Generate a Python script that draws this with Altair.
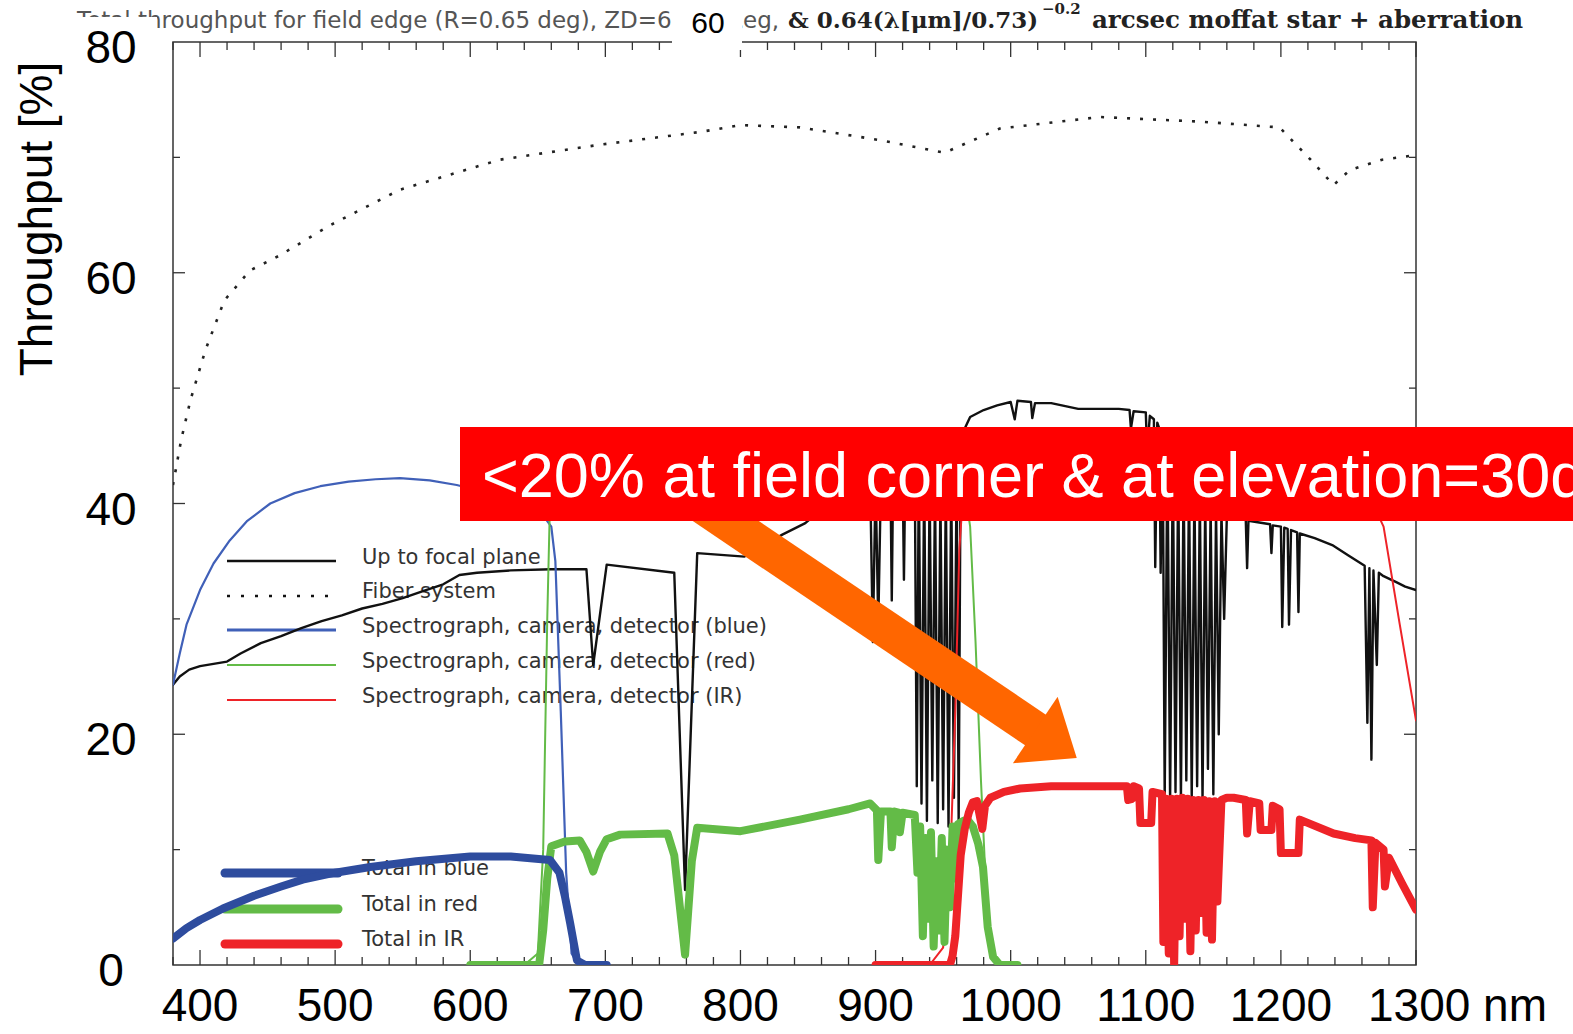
import altair as alt
import pandas as pd

# ---------------- data (wavelength nm, throughput %) ----------------
fiber_nm = [380, 386, 393, 404, 418, 437, 459, 496, 548, 622, 696, 770, 800, 844, 903,
            951, 992, 1066, 1140, 1199, 1222, 1239, 1251, 1275, 1300]
fiber_pct = [41.6, 45.5, 49.0, 53.3, 57.6, 60.2, 61.5, 64.1, 67.2, 69.8, 71.1, 72.2, 72.8,
             72.6, 71.5, 70.4, 72.5, 73.5, 73.1, 72.6, 69.8, 67.6, 68.9, 69.8, 70.2]

focal_pairs = [
    (380, 24.3), (385, 25.0), (392, 25.6), (400, 25.9), (410, 26.1), (420, 26.3), (430, 27.0),
    (445, 27.9), (460, 28.5), (475, 29.2), (490, 29.8), (505, 30.3), (520, 30.9), (535, 31.3),
    (550, 31.8), (565, 32.4), (580, 33.0), (592, 33.8), (605, 34.0), (630, 34.2), (660, 34.3),
    (686, 34.3), (691, 26.0), (701, 34.7), (751, 34.0), (759, 6.5), (768, 35.7), (803, 35.4),
    (831, 37.3), (848, 38.3), (870, 40.5), (885, 41.5),
    (896, 42.0), (898, 28.0), (900, 42.0), (902, 29.5), (904, 42.2), (911, 42.5), (912, 31.6),
    (913, 42.5), (920, 43.0), (921, 33.4), (922, 43.0),
    (929, 43.2), (930.5, 15.5), (932, 43.0), (934, 14.0), (936, 42.5), (938, 12.5), (940, 42.0),
    (942, 16.0), (944, 41.5), (946, 12.3), (948, 41.0), (950, 13.5), (952, 41.5), (954, 12.0),
    (956, 42.0), (958, 14.5), (960, 43.0), (961.5, 12.5), (963, 44.5), (966, 46.5), (970, 47.5),
    (980, 48.1), (990, 48.5), (1000, 48.8), (1003, 47.3), (1005, 48.9), (1015, 48.8),
    (1016, 47.4), (1018, 48.7), (1030, 48.7), (1050, 48.2), (1080, 48.2), (1088, 48.1),
    (1089, 46.5), (1091, 48.0), (1100, 47.9), (1101, 44.5), (1103, 47.6), (1106, 47.3),
    (1107, 34.5), (1108.5, 47.0), (1110, 46.5), (1111, 34.0), (1112.5, 46.0),
    (1114, 14.5), (1116, 45.0), (1118, 14.2), (1120, 44.0), (1122, 15.0), (1124, 43.0),
    (1126, 14.3), (1128, 42.5), (1130, 16.0), (1132, 42.0), (1134, 14.4), (1136, 41.5),
    (1138, 15.5), (1140, 41.0), (1142, 14.3), (1144, 40.5), (1146, 17.0), (1148, 40.0),
    (1150, 14.8), (1152, 39.5), (1154, 20.0), (1156, 39.2), (1158, 30.0), (1160, 38.9),
    (1174, 38.6), (1175, 34.4), (1176, 38.5), (1192, 38.2), (1193, 35.7), (1194, 38.1),
    (1200, 38.0), (1201, 29.3), (1202.5, 37.9), (1205, 37.8), (1206, 29.5), (1207.5, 37.7),
    (1212, 37.5), (1213, 30.6), (1214, 37.4), (1225, 37.0), (1238, 36.4), (1250, 35.5),
    (1262, 34.6), (1264, 21.0), (1265.5, 34.4), (1267, 17.8), (1268.5, 34.2), (1271, 26.0),
    (1272.5, 34.0), (1276, 33.7), (1285, 33.2), (1292, 32.8), (1300, 32.5)]
focal_nm = [p[0] for p in focal_pairs]
focal_pct = [p[1] for p in focal_pairs]

spec_blue_nm = [380, 385, 390, 400, 410, 422, 435, 452, 470, 489, 510, 530, 548, 570, 590,
                610, 630, 645, 655, 660, 663, 667, 671, 675, 680]
spec_blue_pct = [24.3, 27.0, 29.5, 32.5, 34.8, 36.8, 38.5, 40.0, 40.9, 41.5, 41.9, 42.1, 42.2,
                 42.0, 41.6, 41.0, 40.3, 39.4, 38.8, 38.0, 35.0, 22.0, 8.0, 1.0, 0.0]

spec_red_nm = [640, 650, 654, 657, 659, 664, 700, 800, 900, 950, 965, 970, 974, 978, 982, 986, 990]
spec_red_pct = [0.0, 1.0, 10.0, 30.0, 40.0, 44.0, 45.0, 45.5, 45.0, 44.0, 42.0, 38.0, 28.0,
                16.0, 6.0, 1.0, 0.0]

spec_ir_nm = [940, 950, 955, 959, 962, 966, 1000, 1100, 1200, 1250, 1268, 1276, 1288, 1300]
spec_ir_pct = [0.0, 1.5, 8.0, 22.0, 36.0, 43.0, 45.0, 45.5, 44.5, 42.0, 40.0, 38.0, 29.5, 21.2]

tot_blue_nm = [380, 390, 400, 417, 440, 460, 476, 500, 526, 560, 600, 630, 659, 666, 670,
               674, 679, 685, 701]
tot_blue_pct = [2.3, 3.2, 3.9, 4.9, 6.0, 6.8, 7.4, 8.0, 8.5, 9.0, 9.4, 9.4, 9.1, 8.0, 6.0,
                3.6, 0.4, 0.0, 0.0]

tot_red_pairs = [
    (600, 0.0), (651, 0.0), (654, 3.0), (657, 7.5), (660, 10.3), (670, 10.7), (681, 10.8),
    (686, 9.8), (691, 8.1), (696, 9.8), (701, 10.9), (711, 11.3), (746, 11.4), (751, 9.5),
    (759, 0.9), (764, 9.0), (768, 11.9), (800, 11.6), (844, 12.6), (880, 13.5), (896, 14.0),
    (901, 13.4), (902, 9.1), (904, 13.3), (911, 13.3), (912, 10.2), (914, 13.3), (917, 13.2),
    (918, 11.5), (920, 13.2), (929, 13.0), (931, 8.0), (933, 12.0), (935, 2.5), (937, 11.0),
    (939, 4.0), (941, 11.5), (943, 1.6), (945, 9.0), (947, 3.0), (949, 11.0), (951, 2.0),
    (953, 10.0), (955, 5.0), (957, 12.0), (959, 7.5), (961, 12.2), (965, 12.5), (968, 12.6),
    (972, 12.0), (976, 10.5), (979.5, 8.5), (983, 3.3), (987, 0.7), (992, 0.0), (1005, 0.0)]
tot_red_nm = [p[0] for p in tot_red_pairs]
tot_red_pct = [p[1] for p in tot_red_pairs]

tot_ir_pairs = [
    (900, 0.0), (955, 0.0), (957, 0.8), (959, 2.5), (961, 6.0), (963, 9.5), (966, 11.8),
    (969, 13.2), (972, 14.1), (975, 14.2), (977, 13.0), (979, 11.8), (981, 13.8), (985, 14.5),
    (995, 15.0), (1007, 15.3), (1030, 15.5), (1066, 15.5), (1086, 15.5), (1087, 14.3),
    (1090, 14.4), (1091, 15.5), (1095, 15.3), (1096, 12.3), (1104, 12.3), (1105, 15.0),
    (1112, 14.8), (1113, 2.0), (1115, 14.4), (1117, 1.0), (1119, 14.4), (1121, 0.0),
    (1123, 14.4), (1125, 2.5), (1127, 14.5), (1129, 4.0), (1131, 14.4), (1133, 1.2),
    (1135, 14.3), (1137, 3.0), (1139, 14.3), (1141, 4.5), (1143, 14.3), (1145, 2.8),
    (1147, 14.2), (1149, 2.2), (1151, 14.2), (1153, 5.5), (1156, 14.3), (1160, 14.5),
    (1165, 14.5), (1174, 14.3), (1175, 11.4), (1177, 14.2), (1184, 14.0), (1185, 11.7),
    (1193, 11.7), (1194, 13.8), (1199, 13.5), (1200, 9.7), (1213, 9.7), (1214, 12.6),
    (1239, 11.4), (1255, 11.0), (1267, 10.8), (1268, 5.0), (1270, 10.6), (1276, 10.0),
    (1277, 6.8), (1280, 9.3), (1290, 7.0), (1300, 4.8)]
tot_ir_nm = [p[0] for p in tot_ir_pairs]
tot_ir_pct = [p[1] for p in tot_ir_pairs]

# axis ticks / labels
x_major = [400, 500, 600, 700, 800, 900, 1000, 1100, 1200, 1300]
x_minor = [380, 420, 440, 460, 480, 520, 540, 560, 580, 620, 640, 660, 680, 720, 740, 760,
           780, 820, 840, 860, 880, 920, 940, 960, 980, 1020, 1040, 1060, 1080, 1120, 1140,
           1160, 1180, 1220, 1240, 1260, 1280]
y_major = [20, 40, 60]
y_minor = [10, 30, 50, 70]
x_label_vals = [400, 500, 600, 700, 800, 900, 1000, 1100, 1200]
x_label_txt = ["400", "500", "600", "700", "800", "900", "1000", "1100", "1200"]
y_label_vals = [0, 20, 40, 60, 80]
y_label_txt = ["0", "20", "40", "60", "80"]

legend_thin = ["Up to focal plane", "Fiber system", "Spectrograph, camera, detector (blue)",
               "Spectrograph, camera, detector (red)", "Spectrograph, camera, detector (IR)"]
legend_thick = ["Total in blue", "Total in red", "Total in IR"]

# ---------------- styling / layout ----------------
W, H = 1243, 923
X0, Y0 = 173, 42
BLACK = "#111111"
BLUE_T = "#4060B8"
BLUE = "#2E4C9E"
GREEN = "#63BB47"
RED = "#EE2328"
ORANGE = "#FF6600"
XS = alt.Scale(domain=[380, 1300], nice=False, zero=False)
YS = alt.Scale(domain=[0, 80], nice=False)
one = pd.DataFrame({"k": [0]})


def px(x):
    return x - X0


def py(y):
    return y - Y0


def series(nm, pct, color, width, dash=None):
    df = pd.DataFrame({"nm": nm, "pct": pct, "i": list(range(len(nm)))})
    kw = dict(color=color, strokeWidth=width, strokeJoin="round", strokeCap="round", clip=True)
    if dash:
        kw["strokeDash"] = dash
        kw["strokeCap"] = "butt"
    return alt.Chart(df).mark_line(**kw).encode(
        x=alt.X("nm:Q", scale=XS, axis=None),
        y=alt.Y("pct:Q", scale=YS, axis=None),
        order="i:Q")


def xticks(vals, y1, y2):
    return alt.Chart(pd.DataFrame({"v": vals})).mark_rule(color="#333", strokeWidth=1.3).encode(
        x=alt.X("v:Q", scale=XS, axis=None), y=alt.value(y1), y2=alt.value(y2))


def yticks(vals, x1, x2):
    return alt.Chart(pd.DataFrame({"v": vals})).mark_rule(color="#333", strokeWidth=1.3).encode(
        y=alt.Y("v:Q", scale=YS, axis=None), x=alt.value(x1), x2=alt.value(x2))


def txt(x, y, s, **kw):
    return alt.Chart(pd.DataFrame({"s": [s]})).mark_text(**kw).encode(
        x=alt.value(px(x)), y=alt.value(py(y)), text="s:N")


def box(x1, y1, x2, y2, color):
    return alt.Chart(one).mark_rect(color=color).encode(
        x=alt.value(px(x1)), x2=alt.value(px(x2)), y=alt.value(py(y1)), y2=alt.value(py(y2)))


def seg(x1, y1, x2, y2, **kw):
    return alt.Chart(one).mark_rule(**kw).encode(
        x=alt.value(px(x1)), x2=alt.value(px(x2)), y=alt.value(py(y1)), y2=alt.value(py(y2)))


layers = []
# ticks (inward)
layers += [xticks(x_major, H, H - 15), xticks(x_minor, H, H - 8),
           xticks(x_major, 0, 15), xticks(x_minor, 0, 8),
           yticks(y_major, 0, 12), yticks(y_minor, 0, 7),
           yticks(y_major, W, W - 12), yticks(y_minor, W, W - 7)]

# legend texts
leg_font = dict(font="DejaVu Sans", fontSize=21, color="#333", align="left", baseline="middle")
for s, y in zip(legend_thin, [558, 592, 627, 662, 697]):
    layers.append(txt(362, y, s, **leg_font))
for s, y in zip(legend_thick, [869, 905, 940]):
    layers.append(txt(362, y, s, **leg_font))
# legend samples
layers += [
    seg(227, 561, 336, 561, color=BLACK, strokeWidth=2.5),
    seg(227, 596, 336, 596, color=BLACK, strokeWidth=2.5, strokeDash=[3, 11]),
    seg(227, 630, 336, 630, color=BLUE_T, strokeWidth=3),
    seg(227, 665, 336, 665, color=GREEN, strokeWidth=2),
    seg(227, 700, 336, 700, color=RED, strokeWidth=2),
    seg(225, 873, 338, 873, color=BLUE, strokeWidth=9, strokeCap="round"),
    seg(225, 909, 338, 909, color=GREEN, strokeWidth=9, strokeCap="round"),
    seg(225, 944, 338, 944, color=RED, strokeWidth=9, strokeCap="round"),
]

# data lines
layers += [
    series(fiber_nm, fiber_pct, "#222", 2.6, dash=[3, 10]),
    series(focal_nm, focal_pct, BLACK, 2.4),
    series(spec_blue_nm, spec_blue_pct, BLUE_T, 2.2),
    series(spec_red_nm, spec_red_pct, GREEN, 2.0),
    series(spec_ir_nm, spec_ir_pct, RED, 2.0),
    series(tot_red_nm, tot_red_pct, GREEN, 8),
    series(tot_blue_nm, tot_blue_pct, BLUE, 8),
    series(tot_ir_nm, tot_ir_pct, RED, 8),
]

# tick labels
xl = pd.DataFrame({"v": x_label_vals, "t": x_label_txt})
layers.append(alt.Chart(xl).mark_text(
    font="Liberation Sans", fontSize=46, color="#000",
    align="center", baseline="middle").encode(
    x=alt.X("v:Q", scale=XS, axis=None), y=alt.value(H + 42), text="t:N"))
xl2 = pd.DataFrame({"v": [1300], "t": ["1300 nm"]})
layers.append(alt.Chart(xl2).mark_text(
    font="Liberation Sans", fontSize=46, color="#000",
    align="left", baseline="middle", dx=-48).encode(
    x=alt.X("v:Q", scale=XS, axis=None), y=alt.value(H + 42), text="t:N"))
yl = pd.DataFrame({"v": y_label_vals, "t": y_label_txt})

# title of the original plot
layers += [
    txt(77, 28, "Total throughput for field edge (R=0.65 deg), ZD=60 deg,",
        font="DejaVu Sans", fontSize=23, color="#555", align="left", baseline="alphabetic"),
    box(60, 17, 157, 46, "white"),
    box(672, 0, 742, 50, "white"),
    txt(708, 24, "60", font="Liberation Sans", fontSize=30, color="#000",
        align="center", baseline="middle"),
    txt(743, 28, "eg,", font="DejaVu Sans", fontSize=23, color="#555", align="left",
        baseline="alphabetic"),
    txt(788, 28, "& 0.64(λ[μm]/0.73)", font="DejaVu Serif", fontSize=23, color="#222",
        fontWeight="bold", align="left", baseline="alphabetic"),
    txt(1042, 14, "−0.2", font="DejaVu Serif", fontSize=15, color="#222", fontWeight="bold",
        align="left", baseline="alphabetic"),
    txt(1092, 28, "arcsec moffat star + aberration", font="DejaVu Serif", fontSize=24.5,
        color="#222", fontWeight="bold", align="left", baseline="alphabetic"),
]
layers.append(alt.Chart(yl).mark_text(
    font="Liberation Sans", fontSize=46, color="#000", align="center", baseline="middle",
    dy=7).encode(
    y=alt.Y("v:Q", scale=YS, axis=None), x=alt.value(px(111)), text="t:N"))

# slide y-axis title
layers.append(txt(38, 219, "Throughput [%]", font="Liberation Sans", fontSize=46,
                  color="#000", angle=270, align="center", baseline="middle"))

# orange arrow
layers += [
    seg(702, 505, 1040, 733, color=ORANGE, strokeWidth=37, strokeCap="butt"),
    alt.Chart(one).mark_point(shape="M 0.625 0 L -0.625 -1 L -0.625 1 Z", size=6400,
                              angle=34, filled=True, color=ORANGE, opacity=1,
                              strokeWidth=0).encode(
        x=alt.value(px(1056)), y=alt.value(py(744))),
]

# red banner
layers += [
    box(460, 427, 1600, 521, "#FF0000"),
    txt(482, 497, "<20% at field corner & at elevation=30deg", font="Liberation Sans",
        fontSize=63, color="white", align="left", baseline="alphabetic"),
]

chart = alt.layer(*layers).properties(
    width=W, height=H,
    padding={"left": X0, "top": Y0, "right": 1573 - X0 - W, "bottom": 1034 - Y0 - H},
    autosize=alt.AutoSizeParams(type="none"),
    background="white",
).configure_view(stroke="#333", strokeWidth=1.5)

chart.save("out.html", embed_options={"renderer": "svg", "actions": False})
